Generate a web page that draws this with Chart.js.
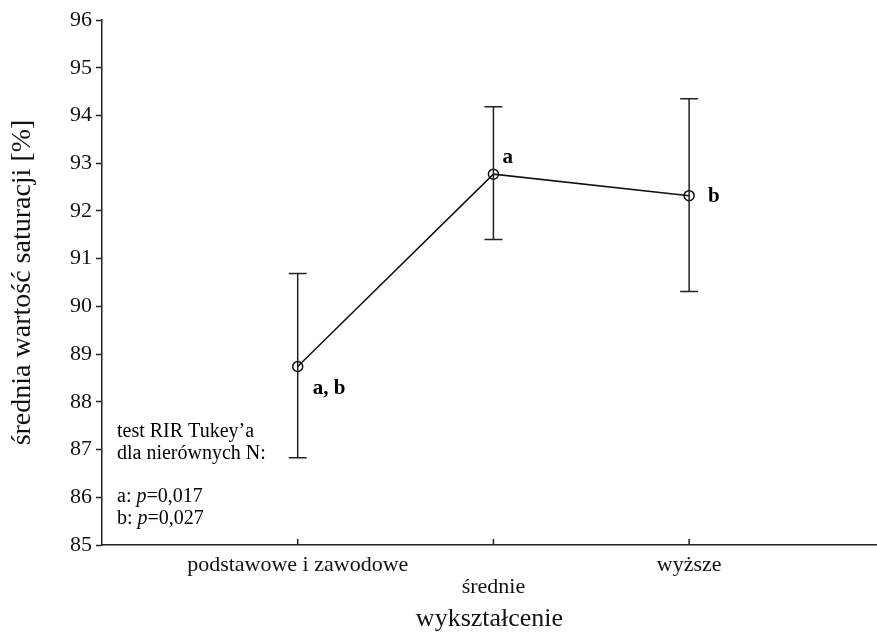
<!DOCTYPE html>
<html>
<head>
<meta charset="utf-8">
<script src="https://cdn.jsdelivr.net/npm/chart.js@4.4.1/dist/chart.umd.min.js"></script>
<style>
  html, body { margin: 0; padding: 0; background: #fff; }
  #wrap { width: 877px; height: 641px; }
</style>
</head>
<body>
<div id="wrap"><canvas id="saturacja"></canvas></div>
<script>
// mean saturation by education level, with error bar ends
var categories = ['podstawowe i zawodowe', 'średnie', 'wyższe'];
var means = [88.74, 92.77, 92.32];
var errLow = [86.83, 91.40, 90.31];
var errHigh = [90.69, 94.18, 94.35];
var tukeyMarks = ['a, b', 'a', 'b'];
var yTicks = [85, 86, 87, 88, 89, 90, 91, 92, 93, 94, 95, 96];

var serif = '"Liberation Serif", "Times New Roman", serif';

// vertical whiskers with caps
var errorBars = {
  id: 'errorBars',
  afterDatasetsDraw: function (chart) {
    var ctx = chart.ctx, xs = chart.scales.x, ys = chart.scales.y;
    ctx.save();
    ctx.strokeStyle = '#222';
    ctx.lineWidth = 1.5;
    for (var i = 0; i < means.length; i++) {
      var px = xs.getPixelForValue(i + 1);
      var top = ys.getPixelForValue(errHigh[i]);
      var bot = ys.getPixelForValue(errLow[i]);
      ctx.beginPath();
      ctx.moveTo(px, top); ctx.lineTo(px, bot);
      ctx.moveTo(px - 9, top); ctx.lineTo(px + 9, top);
      ctx.moveTo(px - 9, bot); ctx.lineTo(px + 9, bot);
      ctx.stroke();
    }
    ctx.restore();
  }
};

// group letters next to the means, inward x ticks and the test note
var extras = {
  id: 'extras',
  afterDraw: function (chart) {
    var ctx = chart.ctx, xs = chart.scales.x, ys = chart.scales.y;
    ctx.save();
    ctx.fillStyle = '#000';
    ctx.font = 'bold 21px ' + serif;
    ctx.textBaseline = 'middle';
    ctx.textAlign = 'left';
    var offs = [[15, 22], [9, -17], [19, 1]];
    for (var i = 0; i < means.length; i++) {
      var px = xs.getPixelForValue(i + 1);
      var py = ys.getPixelForValue(means[i]);
      ctx.fillText(tukeyMarks[i], px + offs[i][0], py + offs[i][1]);
    }

    // short ticks pointing up from the category axis
    ctx.strokeStyle = '#222';
    ctx.lineWidth = 1.5;
    ctx.beginPath();
    for (var k = 1; k <= categories.length; k++) {
      var tx = xs.getPixelForValue(k);
      ctx.moveTo(tx, ys.bottom);
      ctx.lineTo(tx, ys.bottom - 6);
    }
    ctx.stroke();

    // note about the post-hoc test
    var left = xs.left + 15;
    ctx.font = '20px ' + serif;
    ctx.fillText('test RIR Tukey\u2019a', left, 432);
    ctx.fillText('dla nierównych N:', left, 454);
    var rows = [['a: ', '0,017', 497], ['b: ', '0,027', 519]];
    rows.forEach(function (r) {
      ctx.font = '20px ' + serif;
      ctx.fillText(r[0], left, r[2]);
      var w = ctx.measureText(r[0]).width;
      ctx.font = 'italic 20px ' + serif;
      ctx.fillText('p', left + w, r[2]);
      var w2 = ctx.measureText('p').width;
      ctx.font = '20px ' + serif;
      ctx.fillText('=' + r[1], left + w + w2, r[2]);
    });
    ctx.restore();
  }
};

new Chart(document.getElementById('saturacja'), {
  type: 'line',
  data: {
    datasets: [{
      data: means.map(function (m, i) { return { x: i + 1, y: m }; }),
      borderColor: '#111',
      borderWidth: 1.5,
      pointRadius: 5,
      pointBorderWidth: 1.5,
      pointBorderColor: '#111',
      pointBackgroundColor: 'rgba(255,255,255,0)',
      tension: 0
    }]
  },
  options: {
    responsive: true,
    maintainAspectRatio: false,
    animation: false,
    layout: { autoPadding: false, padding: { top: 20, right: 0, bottom: 0, left: 0 } },
    plugins: { legend: { display: false }, tooltip: { enabled: false } },
    scales: {
      x: {
        type: 'linear',
        min: 0,
        max: 3.96,
        afterFit: function (s) {
          s.height = 96;
          s.paddingLeft = 0;
          s.paddingRight = 0;
        },
        afterBuildTicks: function (s) {
          s.ticks = categories.map(function (c, i) { return { value: i + 1 }; });
        },
        border: { display: true, color: '#222', width: 1.5 },
        grid: { display: true, drawOnChartArea: false, drawTicks: false },
        ticks: {
          padding: 9,
          maxRotation: 0,
          autoSkip: false,
          color: '#111',
          font: { family: serif, size: 22, lineHeight: 1.0 },
          callback: function (v) {
            var idx = Math.round(v) - 1;
            return idx === 1 ? ['', categories[idx]] : categories[idx];
          }
        },
        title: {
          display: true,
          text: 'wykształcenie',
          color: '#111',
          font: { family: serif, size: 26 },
          padding: { top: 4, bottom: 6 }
        }
      },
      y: {
        min: 85,
        max: 96,
        afterFit: function (s) { s.width = 102; },
        afterBuildTicks: function (s) {
          s.ticks = yTicks.map(function (v) { return { value: v }; });
        },
        border: { display: true, color: '#222', width: 1.5 },
        grid: { drawOnChartArea: false, drawTicks: true, tickLength: 6, tickColor: '#222', tickWidth: 1.5 },
        ticks: {
          padding: 4,
          color: '#111',
          font: { family: serif, size: 22 }
        },
        title: {
          display: true,
          text: 'średnia wartość saturacji [%]',
          color: '#111',
          font: { family: serif, size: 28 },
          padding: { top: 6, bottom: 4 }
        }
      }
    }
  },
  plugins: [errorBars, extras]
});
</script>
</body>
</html>
